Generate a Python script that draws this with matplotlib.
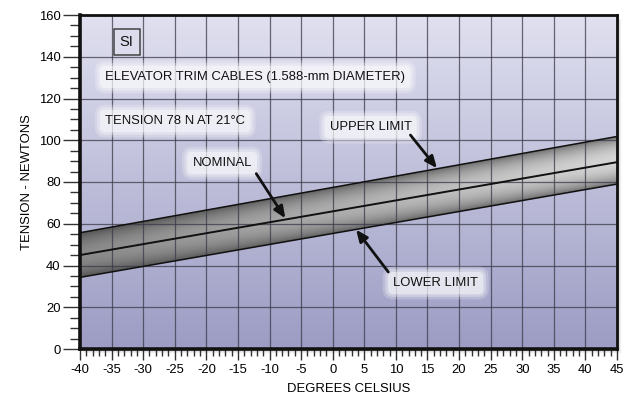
import numpy as np
import matplotlib
matplotlib.use("Agg")
import matplotlib.pyplot as plt
from matplotlib.patches import Rectangle, Polygon
from matplotlib.ticker import MultipleLocator

# ---- data ----
temps = [-40, 45]              # degrees Celsius (line endpoints)
nominal = [45.0, 89.5]         # newtons
upper_limit = [55.7, 101.8]
lower_limit = [34.3, 79.0]
x_ticks = list(range(-40, 46, 5))
y_ticks = list(range(0, 161, 20))
title_line1 = "ELEVATOR TRIM CABLES (1.588-mm DIAMETER)"
title_line2 = "TENSION 78 N AT 21°C"

plt.rcParams['font.family'] = ['Liberation Sans', 'DejaVu Sans']
FS = 9.4

fig = plt.figure(figsize=(6.34, 4.03), dpi=100)
fig.patch.set_facecolor('white')
L, R, B, T = 80/634, 617/634, 1-349/403, 1-15/403
ax = fig.add_axes([L, B, R-L, T-B])

# drop shadow behind axes
for i, a in enumerate([0.12, 0.09, 0.06, 0.04, 0.02]):
    off = (i+1)*1.0
    fig.patches.append(Rectangle((L + off/634, B - off/403), R-L, T-B,
                                 transform=fig.transFigure, facecolor='black',
                                 alpha=a, edgecolor='none', zorder=-5))

ax.set_xlim(-40, 45)
ax.set_ylim(0, 160)

# background gradient
ny = 256
grad = np.linspace(0, 1, ny)[:, None]
top = np.array([224, 224, 240]) / 255
bot = np.array([156, 156, 196]) / 255
img = top[None, None, :] * (1-grad[..., None]) + bot[None, None, :] * grad[..., None]
img = np.repeat(img, 4, axis=1)
ax.imshow(img, extent=(-40, 45, 0, 160), origin='upper', aspect='auto', zorder=0,
          interpolation='bilinear')

# band with tube shading
xs = np.linspace(-40, 45, 400)
ys = np.linspace(0, 160, 600)
X, Y = np.meshgrid(xs, ys)
lo = np.interp(X, temps, lower_limit)
hi = np.interp(X, temps, upper_limit)
t = np.clip((Y - lo) / (hi - lo), 0, 1)
xr = (X + 40) / 85
shade = 0.32 + 0.22 * np.sin(np.pi * t) ** 0.8 + 0.22 * xr * np.sin(np.pi * t) ** 0.5 + 0.08 * xr
rgba = np.dstack([shade, shade, shade, np.ones_like(shade)])
band_img = ax.imshow(rgba, extent=(-40, 45, 0, 160), origin='lower', aspect='auto',
                     zorder=1, interpolation='bilinear')
poly = Polygon(list(zip(temps, lower_limit)) + list(zip(temps[::-1], upper_limit[::-1])),
               closed=True, facecolor='none', edgecolor='none', transform=ax.transData)
ax.add_patch(poly)
band_img.set_clip_path(poly)

# grid
ax.set_xticks(x_ticks)
ax.set_yticks(y_ticks)
ax.xaxis.set_minor_locator(MultipleLocator(1))
ax.yaxis.set_minor_locator(MultipleLocator(5))
ax.grid(True, which='major', color='#3a3a48', linewidth=0.9, alpha=0.75, zorder=2)
ax.set_axisbelow(False)

# lines
ax.plot(temps, upper_limit, color='#111111', lw=1.1, zorder=3)
ax.plot(temps, nominal, color='#111111', lw=1.4, zorder=3)
ax.plot(temps, lower_limit, color='#111111', lw=1.1, zorder=3)

# spines
for s in ['left', 'bottom']:
    ax.spines[s].set_linewidth(2.6)
for s in ['top', 'right']:
    ax.spines[s].set_linewidth(2.0)
for s in ax.spines.values():
    s.set_color('#111111')
    s.set_zorder(5)

ax.tick_params(axis='y', which='major', length=12, width=1, color='#333333',
               labelsize=FS, pad=2)
ax.tick_params(axis='y', which='minor', length=7, width=1, color='#333333')
ax.tick_params(axis='x', which='major', length=8, width=1, color='#333333',
               labelsize=FS, pad=3)
ax.tick_params(axis='x', which='minor', length=5, width=1, color='#333333')
ax.set_xticklabels([str(v) for v in x_ticks])
ax.set_yticklabels([str(v) for v in y_ticks])

ax.set_xlabel("DEGREES CELSIUS", fontsize=FS, labelpad=5)
ax.set_ylabel("TENSION - NEWTONS", fontsize=FS, labelpad=4)


def glow_text(x, y, s, ha='left', va='center', **kw):
    for pad, a in [(0.8, 0.22), (0.6, 0.3), (0.4, 0.45)]:
        ax.text(x, y, s, ha=ha, va=va, fontsize=FS, color=(0, 0, 0, 0), zorder=6,
                bbox=dict(boxstyle=f'round,pad={pad}', facecolor='white',
                          edgecolor='none', alpha=a))
    ax.text(x, y, s, ha=ha, va=va, fontsize=FS, color='#111111', zorder=7, **kw)


ax.text(-32.6, 147, "SI", ha='center', va='center', fontsize=10.5, color='#111111', zorder=7,
        bbox=dict(boxstyle='square,pad=0.4', facecolor='#dcdcec', edgecolor='#444444', lw=1.1))
glow_text(-36.0, 130.3, title_line1)
glow_text(-36.0, 109.2, title_line2)
glow_text(-17.5, 89.1, "NOMINAL", ha='center')
glow_text(6.0, 106.3, "UPPER LIMIT", ha='center')
glow_text(16.3, 31.6, "LOWER LIMIT", ha='center')

arrow = dict(arrowstyle='-|>,head_length=0.7,head_width=0.3', color='#111111', lw=2.0,
             shrinkA=0, shrinkB=0)
ax.annotate("", xy=(-7.5, 62.6), xytext=(-12.1, 84.0), arrowprops=arrow, zorder=8)
ax.annotate("", xy=(16.5, 86.6), xytext=(12.3, 102.5), arrowprops=arrow, zorder=8)
ax.annotate("", xy=(3.7, 57.2), xytext=(8.8, 36.9), arrowprops=arrow, zorder=8)

fig.savefig("out.png", dpi=100)
